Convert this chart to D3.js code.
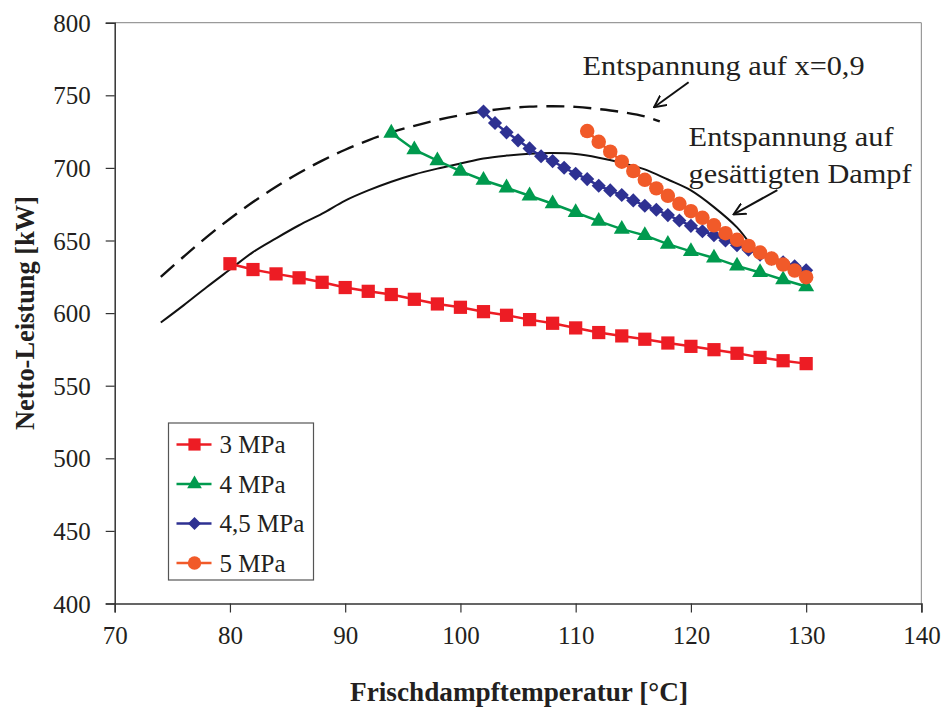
<!DOCTYPE html>
<html><head><meta charset="utf-8">
<script src="https://cdn.jsdelivr.net/npm/d3@7"></script>
<style>body{margin:0;background:#fff}svg{display:block}</style>
</head><body>
<script>
// ---- data ----
const temp3 = [80,82,84,86,88,90,92,94,96,98,100,102,104,106,108,110,112,114,116,118,120,122,124,126,128,130];
const power3 = [634,630,627,624.3,621.2,617.6,615,612.8,609.5,606.3,604,601,598.5,595.5,593,589.8,586.6,584.3,582,579.4,577.1,574.8,572.3,569.5,567.2,565.2];
const temp4 = [94,96,98,100,102,104,106,108,110,112,114,116,118,120,122,124,126,128,130];
const power4 = [724,712.5,705,697.8,691.5,686.3,680.8,675.3,669.3,663.3,657.8,653.5,647.5,642.5,638,632.5,628,623,618.3];
const temp45 = [102,103,104,105,106,107,108,109,110,111,112,113,114,115,116,117,118,119,120,121,122,123,124,125,126,127,128,129,130];
const power45 = [738.8,730.9,724.5,719,713.4,708,704.7,700.1,696,692.3,687.7,684.5,681.3,677.6,673.9,671.2,667.5,663.8,660.1,656.4,653.7,650,646.8,643.6,640.3,637.5,635,632.3,629.5];
const temp5 = [111,112,113,114,115,116,117,118,119,120,121,122,123,124,125,126,127,128,129,130];
const power5 = [725.4,718,711.2,704.3,697.8,691.8,685.9,680.8,675.3,670.2,665.6,660.5,655,650.5,646.3,641.7,637.6,633.4,629.3,624.7];
// envelope curves
const dashTemp = [74,76,78,80,82,84,86,88,90,92,94,96,98,100,102,104,106,108,110,112,114,116,117.3];
const dashPower = [625,639,652.5,665,676.5,687,696.5,705,712.5,719,724.5,729,733,736.3,739,741,742.2,742.5,742,740.5,738.5,735.5,732];
const solidTemp = [74,76,78,80,82,84,86,88,90,92,94,96,98,100,102,104,106,108,110,112,114,116,118,120,122,124,125];
const solidPower = [593.5,605.5,618,630,642,651.5,660.5,668.5,677.5,684.5,690.5,695.5,699.5,703,706.5,708.5,709.8,710.2,709.5,707,703.5,699,692,684.5,673,659,649];
const seriesNames = ["3 MPa","4 MPa","4,5 MPa","5 MPa"];
const xTicks = [70,80,90,100,110,120,130,140];
const yTicks = [400,450,500,550,600,650,700,750,800];
const xTitle = "Frischdampftemperatur [°C]";
const yTitle = "Netto-Leistung [kW]";
const note1 = "Entspannung auf x=0,9";
const note2a = "Entspannung auf";
const note2b = "gesättigten Dampf";

const W = 944, H = 708;
const FONT = "'Liberation Serif','Times New Roman',serif";
const x = d3.scaleLinear().domain([70,140]).range([114.7,921.4]);
const y = d3.scaleLinear().domain([400,800]).range([603.5,22.7]);

const svg = d3.select("body").append("svg").attr("width",W).attr("height",H)
  .style("font-family",FONT);

// frame (top & right light)
svg.append("line").attr("x1",x(70)).attr("x2",x(140)).attr("y1",y(800)).attr("y2",y(800))
  .attr("stroke","#9a9a9a").attr("stroke-width",1.2);
svg.append("line").attr("x1",x(140)).attr("x2",x(140)).attr("y1",y(800)).attr("y2",y(400))
  .attr("stroke","#9a9a9a").attr("stroke-width",1.2);

// axes
const xAxis = svg.append("g").attr("transform",`translate(0,${y(400)})`)
  .call(d3.axisBottom(x).tickValues(xTicks).tickSize(9).tickPadding(8).tickFormat(d3.format("d")));
const yAxis = svg.append("g").attr("transform",`translate(${x(70)},0)`)
  .call(d3.axisLeft(y).tickValues(yTicks).tickSize(9).tickPadding(15).tickFormat(d3.format("d")));
[xAxis,yAxis].forEach(g=>{
  g.select(".domain").attr("stroke","#333").attr("stroke-width",1.5);
  g.selectAll(".tick line").attr("stroke","#333").attr("stroke-width",1.2);
  g.selectAll(".tick text").attr("font-family",FONT).attr("font-size",25).attr("fill","#231f20");
});
xAxis.selectAll(".tick text").attr("dy","0.95em");
yAxis.selectAll(".tick text").attr("dy","0.34em");

// titles
svg.append("text").attr("x",519).attr("y",701).attr("text-anchor","middle")
  .attr("font-weight","bold").attr("font-size",28).attr("fill","#231f20")
  .attr("textLength",338).attr("lengthAdjust","spacingAndGlyphs").text(xTitle);
svg.append("text").attr("transform","translate(34,313) rotate(-90)").attr("text-anchor","middle")
  .attr("font-weight","bold").attr("font-size",27).attr("fill","#231f20")
  .attr("textLength",234).attr("lengthAdjust","spacingAndGlyphs").text(yTitle);

const line = d3.line().x(d=>x(d[0])).y(d=>y(d[1]));
const curve = d3.line().x(d=>x(d[0])).y(d=>y(d[1])).curve(d3.curveCatmullRom);

// envelope curves
svg.append("path").attr("d",curve(d3.zip(dashTemp,dashPower))).attr("fill","none")
  .attr("stroke","#111").attr("stroke-width",2.4).attr("stroke-dasharray","18,9");
svg.append("path").attr("d",curve(d3.zip(solidTemp,solidPower))).attr("fill","none")
  .attr("stroke","#111").attr("stroke-width",2);

// series
const series = [
  {t:temp3,p:power3,color:"#ed1c24",sym:d3.symbolSquare,size:175,rot:0},
  {t:temp4,p:power4,color:"#009a4e",sym:d3.symbolTriangle,size:110,rot:0},
  {t:temp45,p:power45,color:"#2e3192",sym:d3.symbolSquare,size:100,rot:45},
  {t:temp5,p:power5,color:"#f15a29",sym:d3.symbolCircle,size:165,rot:0}
];
series.forEach(s=>{
  const pts = d3.zip(s.t,s.p);
  svg.append("path").attr("d",line(pts)).attr("fill","none").attr("stroke",s.color).attr("stroke-width",2.5);
  svg.append("g").selectAll("path").data(pts).join("path")
    .attr("d",d3.symbol().type(s.sym).size(s.size))
    .attr("transform",d=>`translate(${x(d[0])},${y(d[1])}) rotate(${s.rot})`)
    .attr("fill",s.color);
});

// annotations
const defs = svg.append("defs");
defs.append("marker").attr("id","arr").attr("viewBox","0 0 12 12").attr("refX",11).attr("refY",6)
  .attr("markerWidth",13).attr("markerHeight",13).attr("markerUnits","userSpaceOnUse").attr("orient","auto")
  .append("path").attr("d","M0,0.5 L11,6 L0,11.5").attr("fill","none").attr("stroke","#111").attr("stroke-width",1.8);
const ann = (x1,y1,x2,y2)=>svg.append("line").attr("x1",x(x1)).attr("y1",y(y1)).attr("x2",x(x2)).attr("y2",y(y2))
  .attr("stroke","#111").attr("stroke-width",2).attr("marker-end","url(#arr)");
ann(119.8,759,116.8,741.8);
ann(127.5,684.7,123.7,668);
svg.append("text").attr("x",x(110.6)).attr("y",y(763.8)).attr("font-size",28).attr("fill","#231f20")
  .attr("textLength",282).attr("lengthAdjust","spacingAndGlyphs").text(note1);
svg.append("text").attr("x",x(119.8)).attr("y",y(715)).attr("font-size",28).attr("fill","#231f20")
  .attr("textLength",205).attr("lengthAdjust","spacingAndGlyphs").text(note2a);
svg.append("text").attr("x",x(119.8)).attr("y",y(689.3)).attr("font-size",28).attr("fill","#231f20")
  .attr("textLength",223).attr("lengthAdjust","spacingAndGlyphs").text(note2b);

// legend
const lg = svg.append("g").attr("transform","translate(168.5,423)");
lg.append("rect").attr("width",145).attr("height",157).attr("fill","#fff").attr("stroke","#555").attr("stroke-width",1.2);
series.forEach((s,i)=>{
  const cy = 21.5 + i*39.5;
  lg.append("line").attr("x1",8).attr("x2",43).attr("y1",cy).attr("y2",cy).attr("stroke",s.color).attr("stroke-width",2.5);
  lg.append("path").attr("d",d3.symbol().type(s.sym).size(s.size*0.85)).attr("transform",`translate(26,${cy}) rotate(${s.rot})`).attr("fill",s.color);
  lg.append("text").attr("x",51).attr("y",cy).attr("dy","0.34em").attr("font-size",25).attr("fill","#231f20").text(seriesNames[i]);
});
</script>
</body></html>
